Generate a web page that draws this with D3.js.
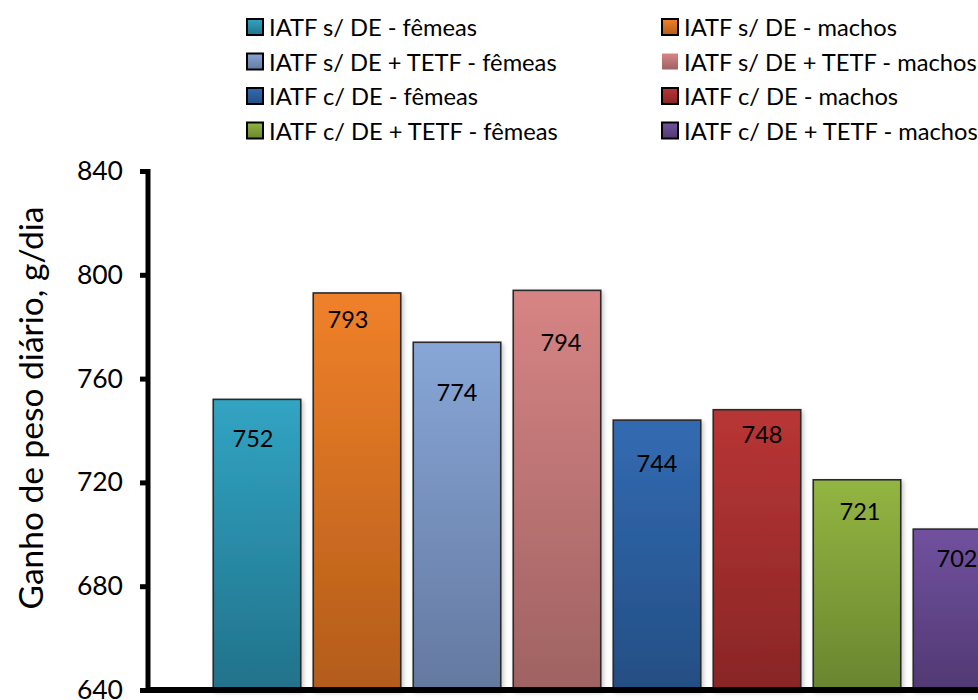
<!DOCTYPE html>
<html>
<head>
<meta charset="utf-8">
<script src="https://cdn.jsdelivr.net/npm/d3@7"></script>
<style>
  html, body { margin: 0; padding: 0; background: #fff; }
  svg { display: block; font-family: Lato, "Open Sans", sans-serif; }
</style>
</head>
<body>
<svg id="chart" width="978" height="700"></svg>
<script>
// Daily weight gain per group
const groups = [
  "IATF s/ DE - fêmeas",
  "IATF s/ DE - machos",
  "IATF s/ DE + TETF - fêmeas",
  "IATF s/ DE + TETF - machos",
  "IATF c/ DE - fêmeas",
  "IATF c/ DE - machos",
  "IATF c/ DE + TETF - fêmeas",
  "IATF c/ DE + TETF - machos"
];
const gain = [752, 793, 774, 794, 744, 748, 721, 702];
const yTicks = [640, 680, 720, 760, 800, 840];

// gradient stops per group: [top, bottom]
const colorTop = ["#31a4c3", "#f0812a", "#87a6d7", "#d78484", "#326bb2", "#b93535", "#93b542", "#71519f"];
const colorBottom = ["#21728a", "#b35c1a", "#6479a0", "#9f6262", "#244e84", "#892626", "#6a852f", "#513973"];

// legend layout: left column holds fêmeas, right column machos
const legendOrder = [0, 1, 2, 3, 4, 5, 6, 7];
const legendNoBorder = new Set([3]);

// hand-placed label nudges [dx, dy from bar top to label centre]
const labelNudge = [[-4, 39], [-9, 26], [0, 50], [4, 52], [0, 43], [5, 24], [3, 31], [0, 29]];

const svg = d3.select("#chart");
const defs = svg.append("defs");

groups.forEach((g, i) => {
  const lg = defs.append("linearGradient")
    .attr("id", "grad" + i).attr("x1", 0).attr("y1", 0).attr("x2", 0).attr("y2", 1);
  lg.append("stop").attr("offset", "0%").attr("stop-color", colorTop[i]);
  lg.append("stop").attr("offset", "100%").attr("stop-color", colorBottom[i]);
});

const shadow = defs.append("filter").attr("id", "shadow")
  .attr("x", "-10%").attr("y", "-10%").attr("width", "130%").attr("height", "130%");
shadow.append("feDropShadow")
  .attr("dx", 2).attr("dy", 2).attr("stdDeviation", 2.2)
  .attr("flood-color", "#000").attr("flood-opacity", 0.22);

const x = d3.scaleBand()
  .domain(groups)
  .range([207, 1007])
  .paddingInner(0.125)
  .paddingOuter(0.0625);

const y = d3.scaleLinear().domain([640, 840]).range([690, 171]);

// bars
const bars = svg.append("g");
bars.selectAll("rect")
  .data(groups)
  .join("rect")
  .attr("x", d => x(d))
  .attr("width", x.bandwidth())
  .attr("y", (d, i) => y(gain[i]))
  .attr("height", (d, i) => y(640) - y(gain[i]))
  .attr("fill", (d, i) => `url(#grad${i})`)
  .attr("stroke", "#2b2b2b")
  .attr("stroke-width", 1.6)
  .attr("filter", "url(#shadow)");

// value labels
svg.append("g").selectAll("text")
  .data(groups)
  .join("text")
  .attr("x", (d, i) => x(d) + x.bandwidth() / 2 + labelNudge[i][0])
  .attr("y", (d, i) => y(gain[i]) + labelNudge[i][1])
  .attr("text-anchor", "middle")
  .attr("dominant-baseline", "central")
  .attr("font-size", 23.5)
  .attr("fill", "#000")
  .text((d, i) => gain[i]);

// y axis
const yAxis = d3.axisLeft(y).tickValues(yTicks).tickSize(8).tickPadding(17).tickSizeOuter(0);
const ya = svg.append("g").attr("transform", "translate(148,0)").call(yAxis);
ya.select(".domain").attr("stroke", "#000").attr("stroke-width", 5)
  .attr("d", "M0,169V693");
ya.selectAll(".tick line").attr("stroke", "#000").attr("stroke-width", 5);
ya.selectAll(".tick text").attr("font-size", 26.5).attr("fill", "#000")
  .attr("font-family", "Lato, sans-serif");

// x baseline
const xa = d3.axisBottom(x).tickSize(0).tickFormat("");
const xg = svg.append("g").attr("transform", `translate(0,${y(640)})`).call(xa);
xg.select(".domain").attr("stroke", "#000").attr("stroke-width", 6)
  .attr("d", "M146,0H1070");

// y title
svg.append("text")
  .attr("transform", `translate(43,408) rotate(-90)`)
  .attr("text-anchor", "middle")
  .attr("font-size", 33.5)
  .attr("fill", "#000")
  .text("Ganho de peso diário, g/dia");

// legend
const legend = svg.append("g");
const legendItems = legend.selectAll("g")
  .data(legendOrder)
  .join("g")
  .attr("transform", (d, k) => {
    const col = d % 2, row = Math.floor(d / 2);
    return `translate(${col === 0 ? 247 : 662},${27 + row * 34.5})`;
  });
legendItems.append("rect")
  .attr("x", 0).attr("y", -8).attr("width", 16).attr("height", 16)
  .attr("fill", d => `url(#grad${d})`)
  .attr("stroke", d => legendNoBorder.has(d) ? "none" : "#000")
  .attr("stroke-width", 2);
legendItems.append("text")
  .attr("x", 22).attr("y", 0)
  .attr("dominant-baseline", "central")
  .attr("font-size", 23.7)
  .attr("fill", "#000")
  .text(d => groups[d]);
</script>
</body>
</html>
